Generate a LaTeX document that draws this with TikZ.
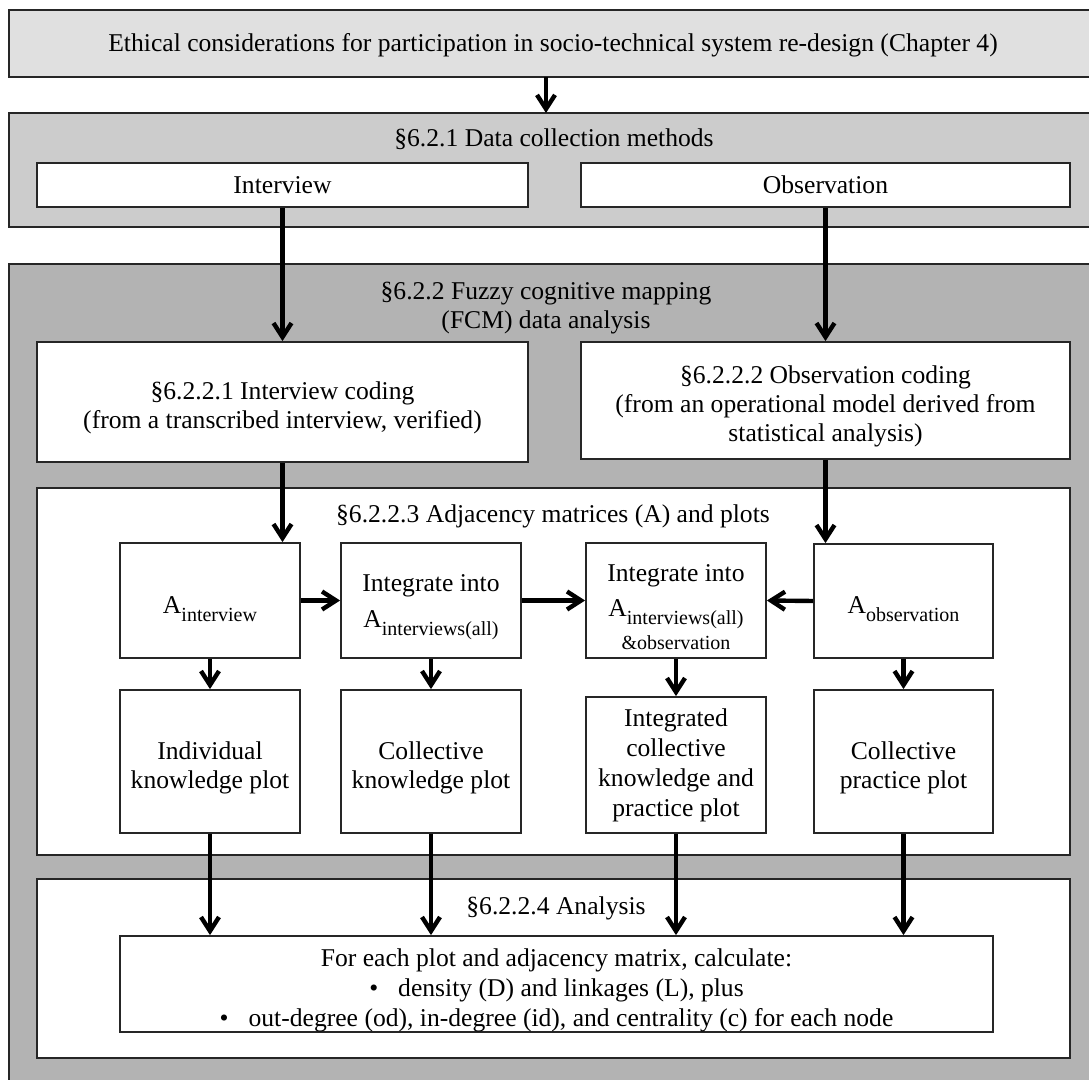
\documentclass[tikz,border=0pt]{standalone}
\usepackage{fontspec}
\setmainfont{Liberation Serif}
\usetikzlibrary{arrows.meta}
\definecolor{edgegrey}{RGB}{38,38,38}
\definecolor{ethicgrey}{RGB}{224,224,224}
\definecolor{datagrey}{RGB}{204,204,204}
\definecolor{fcmgrey}{RGB}{179,179,179}
\newcommand{\subfont}{\fontsize{10}{12}\selectfont}
\newcommand{\Amat}[1]{A\raisebox{-4pt}{\subfont #1}}
\newcommand{\lowtext}[1]{\raisebox{-6.5pt}[0pt][0pt]{#1}}
\newcommand{\topgap}{\rule{0pt}{15pt}}

\begin{document}
\begin{tikzpicture}[x=0.5pt,y=0.5pt,yscale=-1,xscale=1,
  every node/.style={font=\fontsize{12.8}{14.5}\selectfont, inner sep=0pt},
  box/.style={draw=edgegrey, line width=0.9pt, fill=white, align=center},
  arr/.style={line width=2.2pt, -{Straight Barb[length=7pt,width=9pt]}}
]
\useasboundingbox (0,0) rectangle (1089,1080);
\clip (0,0) rectangle (1089,1080);

%Shape: Rectangle [ethics]
\draw [draw=edgegrey, line width=0.9pt, fill=ethicgrey] (9,10) rectangle (1100,77);
%Shape: Rectangle [data collection]
\draw [draw=edgegrey, line width=0.9pt, fill=datagrey] (9,113) rectangle (1100,227);
%Shape: Rectangle [fcm]
\draw [draw=edgegrey, line width=0.9pt, fill=fcmgrey] (9,264) rectangle (1100,1100);
%Shape: Rectangle [adjacency]
\draw [draw=edgegrey, line width=0.9pt, fill=white] (37,488) rectangle (1070,855);
%Shape: Rectangle [analysis]
\draw [draw=edgegrey, line width=0.9pt, fill=white] (37,879) rectangle (1070,1058);

% Text Node
\node (ethic) at (553,45) {Ethical considerations for participation in socio-technical system re-design (Chapter 4)};
% Text Node
\node (datat) at (554,139) {§6.2.1 Data collection methods};
% Text Node
\node (fcmt) at (546,308) [align=center] {§6.2.2 Fuzzy cognitive mapping\\(FCM) data analysis};
% Text Node
\node (adjt) at (553,516) {§6.2.2.3 Adjacency matrices (A) and plots};
% Text Node
\node (anat) at (556,908) {§6.2.2.4 Analysis};

% Boxes
\node (intv) at (282.5,185) [box, minimum width=245.5pt, minimum height=22pt] {Interview};
\node (obsv) at (825.5,185) [box, minimum width=244.5pt, minimum height=22pt] {Observation};
\node (intcod) at (282.5,402) [box, minimum width=245.5pt, minimum height=60pt] {\topgap§6.2.2.1 Interview coding\\(from a transcribed interview, verified)};
\node (obscod) at (825.5,400.5) [box, minimum width=244.5pt, minimum height=58.5pt] {\topgap§6.2.2.2 Observation coding\\(from an operational model derived from\\statistical analysis)};

\node (aint) at (210,600.5) [box, minimum width=90pt, minimum height=57.5pt] {\lowtext{\Amat{interview}}};
\node (intall) at (431,600.5) [box, minimum width=90pt, minimum height=57.5pt] {\topgap Integrate into\\[3.5pt]\Amat{interviews(all)}};
\node (intobs) at (676,600.5) [box, minimum width=90pt, minimum height=57.5pt] {\topgap Integrate into\\[3pt]\Amat{interviews(all)}\\[2pt]{\subfont\&observation}};
\node (aobs) at (903.5,601) [box, minimum width=89.5pt, minimum height=57pt] {\lowtext{\Amat{observation}}};

\node (indiv) at (210,761.5) [box, minimum width=90pt, minimum height=71.5pt] {\topgap Individual\\knowledge plot};
\node (collk) at (431,761.5) [box, minimum width=90pt, minimum height=71.5pt] {\topgap Collective\\knowledge plot};
\node (intplot) at (676,765) [box, minimum width=90pt, minimum height=68pt] {Integrated\\[0.5pt]collective\\[0.5pt]knowledge and\\[0.5pt]practice plot};
\node (collp) at (903.5,761.5) [box, minimum width=89.5pt, minimum height=71.5pt] {\topgap Collective\\practice plot};

\node (calc) at (556.5,984) [box, minimum width=436.5pt, minimum height=48pt] {\topgap For each plot and adjacency matrix, calculate:\\[0.5pt]\textbullet\hspace{10pt}density (D) and linkages (L), plus\\[0.5pt]\textbullet\hspace{10pt}out-degree (od), in-degree (id), and centrality (c) for each node};

%Straight Lines
\coordinate (ethicS) at (546,77);
\coordinate (dataN) at (546,113);
\draw [arr] (ethicS) -- (dataN);
\draw [arr] (intv) -- (intcod);
\draw [arr] (obsv.south) -- (obsv.south |- obscod.north);
\draw [arr] (intcod.south) -- (intcod.south |- aint.north);
\draw [arr] (obscod.south) -- (obscod.south |- aobs.north);
%Straight Lines
\draw [arr] (aint) -- (indiv);
\draw [arr] (intall) -- (collk);
\draw [arr] (intobs) -- (intplot);
\draw [arr] (aobs) -- (collp);
%Straight Lines
\draw [arr] (aint.east) -- (intall.west);
\draw [arr] (intall.east) -- (intobs.west);
\draw [arr] (aobs.west) -- (intobs.east);
%Straight Lines
\draw [arr] (indiv.south) -- (indiv.south |- calc.north);
\draw [arr] (collk.south) -- (collk.south |- calc.north);
\draw [arr] (intplot.south) -- (intplot.south |- calc.north);
\draw [arr] (collp.south) -- (collp.south |- calc.north);

\end{tikzpicture}
\end{document}
